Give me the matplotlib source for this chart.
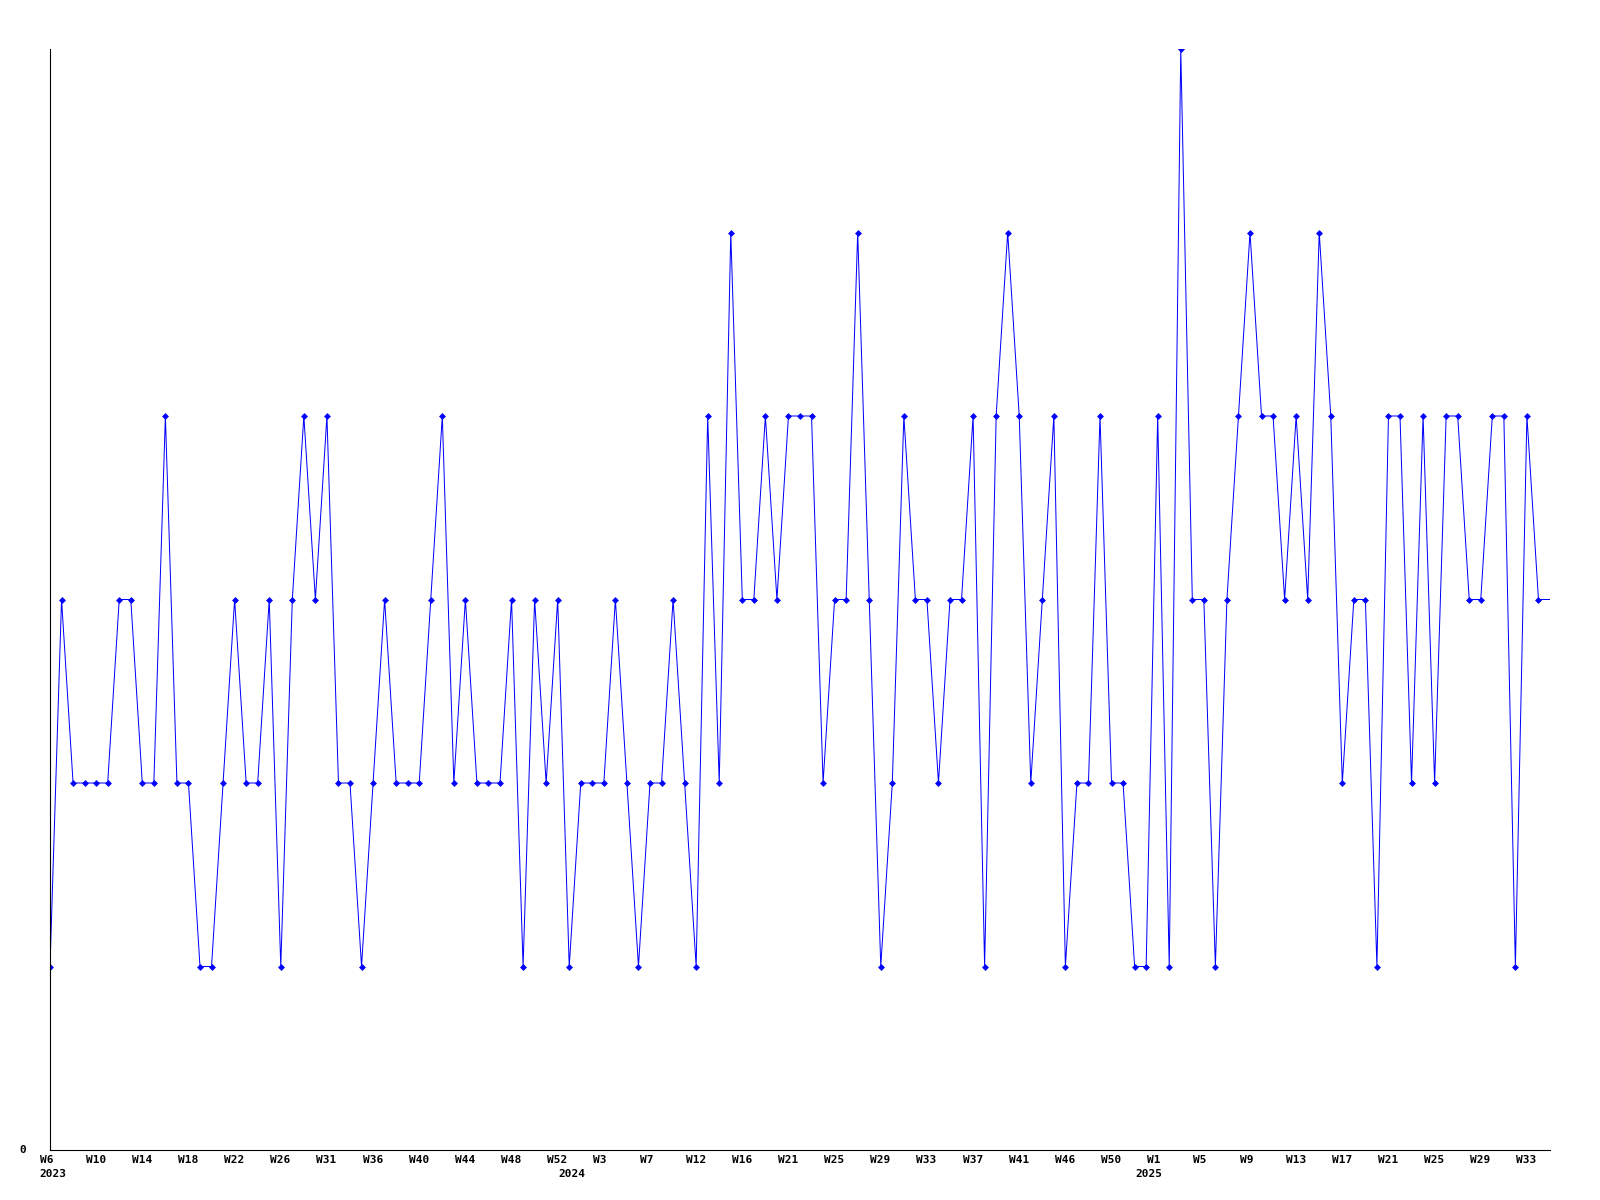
import matplotlib
matplotlib.use('Agg')
import matplotlib.pyplot as plt

# weekly values, first point is W6 2023
values = [1, 3, 2, 2, 2, 2, 3, 3, 2, 2, 4, 2, 2, 1, 1, 2, 3, 2, 2, 3,
          1, 3, 4, 3, 4, 2, 2, 1, 2, 3, 2, 2, 2, 3, 4, 2, 3, 2, 2, 2,
          3, 1, 3, 2, 3, 1, 2, 2, 2, 3, 2, 1, 2, 2, 3, 2, 1, 4, 2, 5,
          3, 3, 4, 3, 4, 4, 4, 2, 3, 3, 5, 3, 1, 2, 4, 3, 3, 2, 3, 3,
          4, 1, 4, 5, 4, 2, 3, 4, 1, 2, 2, 4, 2, 2, 1, 1, 4, 1, 6, 3,
          3, 1, 3, 4, 5, 4, 4, 3, 4, 3, 5, 4, 2, 3, 3, 1, 4, 4, 2, 4,
          2, 4, 4, 3, 3, 4, 4, 1, 4, 3, 3]

week_labels = ['W6', 'W10', 'W14', 'W18', 'W22', 'W26', 'W31', 'W36', 'W40',
               'W44', 'W48', 'W52', 'W3', 'W7', 'W12', 'W16', 'W21', 'W25',
               'W29', 'W33', 'W37', 'W41', 'W46', 'W50', 'W1', 'W5', 'W9',
               'W13', 'W17', 'W21', 'W25', 'W29', 'W33']
year_labels = ['2023', '2024', '2025']
year_pos = [0, 45, 95]

x = list(range(len(values)))

fig = plt.figure(figsize=(16, 12), dpi=100)
ax = fig.add_axes([50 / 1600, 50 / 1200, 1500 / 1600, 1101 / 1200])

# last week is still open, so no marker there
ax.plot(x, values, color='#0000ff', linewidth=0.72, marker='D', markersize=3,
        markeredgewidth=0.5, markevery=list(range(len(values) - 1)))

ax.set_xlim(0, len(values) - 1)
ax.set_ylim(0, 6)
for s in ['top', 'right']:
    ax.spines[s].set_visible(False)
for s in ['left', 'bottom']:
    ax.spines[s].set_linewidth(0.8)
    ax.spines[s].set_color('black')
ax.set_xticks([])
ax.set_yticks([])

font = dict(family='DejaVu Sans Mono', fontsize=8, fontweight='bold', color='black')

for k, lab in enumerate(week_labels):
    ax.annotate(lab, xy=(4 * k, 0), xycoords=('data', 'axes fraction'),
                xytext=(-10.5, -5), textcoords='offset pixels',
                ha='left', va='top', **font)

for pos, lab in zip(year_pos, year_labels):
    ax.annotate(lab, xy=(pos, 0), xycoords=('data', 'axes fraction'),
                xytext=(-10.5, -19), textcoords='offset pixels',
                ha='left', va='top', **font)

ax.annotate('0', xy=(0, 0), xycoords='axes fraction',
            xytext=(-24, 0), textcoords='offset pixels',
            ha='right', va='center', **font)

plt.savefig('out.png', dpi=100)
